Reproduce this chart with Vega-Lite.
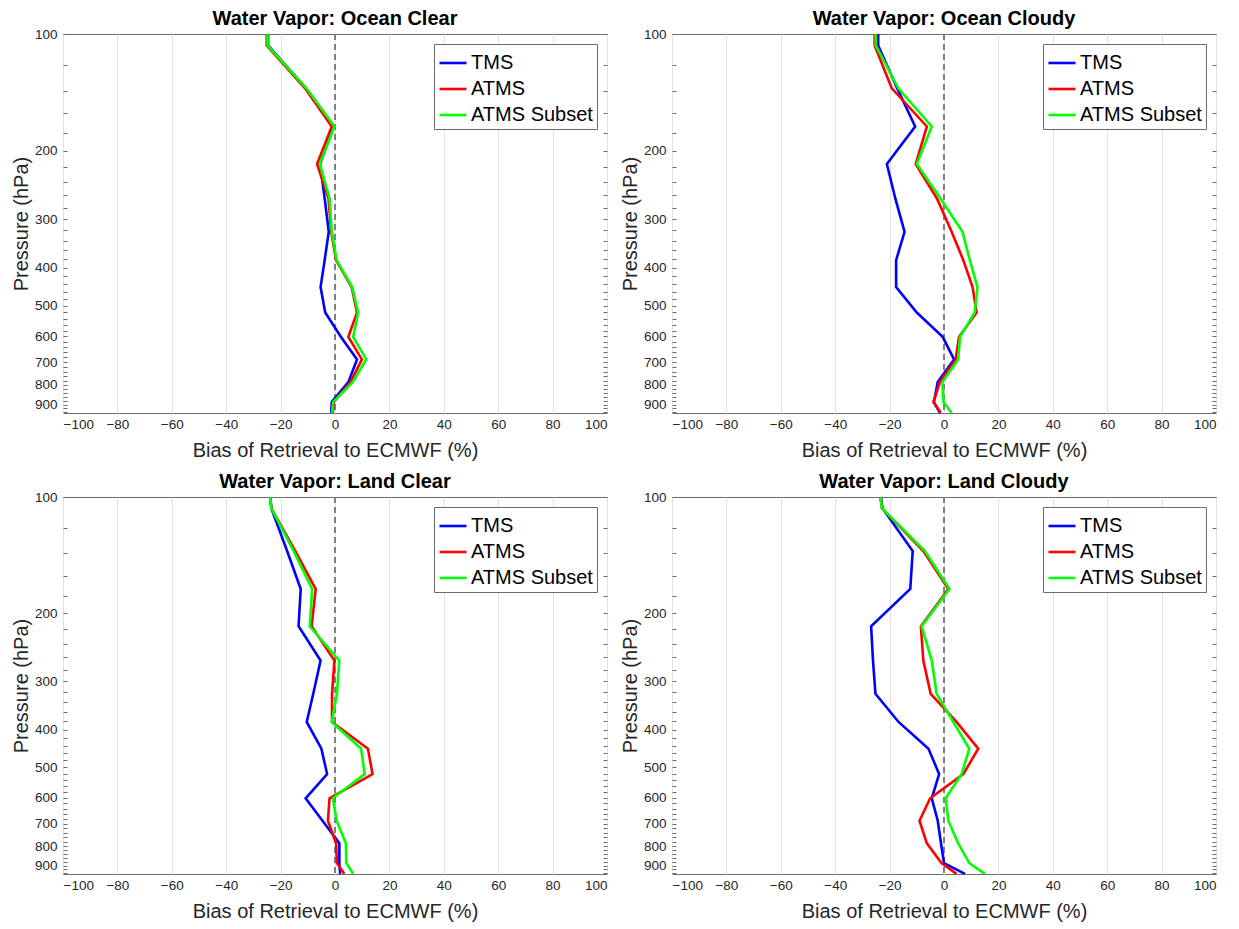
{
  "$schema": "https://vega.github.io/schema/vega-lite/v6.json",
  "padding": {"left": 10, "top": 8, "right": 5, "bottom": 2},
  "background": "#ffffff",
  "data": {"values": [
    {"panel":"Ocean Clear","series":"TMS","p":100,"bias":-24.6},
    {"panel":"Ocean Clear","series":"TMS","p":107,"bias":-24.6},
    {"panel":"Ocean Clear","series":"TMS","p":138,"bias":-10.7},
    {"panel":"Ocean Clear","series":"TMS","p":173,"bias":-0.6},
    {"panel":"Ocean Clear","series":"TMS","p":216,"bias":-5.5},
    {"panel":"Ocean Clear","series":"TMS","p":265,"bias":-3.8},
    {"panel":"Ocean Clear","series":"TMS","p":323,"bias":-2.3},
    {"panel":"Ocean Clear","series":"TMS","p":382,"bias":-3.8},
    {"panel":"Ocean Clear","series":"TMS","p":448,"bias":-5.3},
    {"panel":"Ocean Clear","series":"TMS","p":521,"bias":-3.6},
    {"panel":"Ocean Clear","series":"TMS","p":602,"bias":2.2},
    {"panel":"Ocean Clear","series":"TMS","p":688,"bias":8.1},
    {"panel":"Ocean Clear","series":"TMS","p":787,"bias":4.9},
    {"panel":"Ocean Clear","series":"TMS","p":886,"bias":-1.2},
    {"panel":"Ocean Clear","series":"TMS","p":944,"bias":-1.4},
    {"panel":"Ocean Clear","series":"ATMS","p":100,"bias":-25.1},
    {"panel":"Ocean Clear","series":"ATMS","p":107,"bias":-25.1},
    {"panel":"Ocean Clear","series":"ATMS","p":138,"bias":-11.0},
    {"panel":"Ocean Clear","series":"ATMS","p":173,"bias":-1.2},
    {"panel":"Ocean Clear","series":"ATMS","p":216,"bias":-6.6},
    {"panel":"Ocean Clear","series":"ATMS","p":265,"bias":-2.4},
    {"panel":"Ocean Clear","series":"ATMS","p":323,"bias":-1.4},
    {"panel":"Ocean Clear","series":"ATMS","p":382,"bias":0.4},
    {"panel":"Ocean Clear","series":"ATMS","p":448,"bias":6.1},
    {"panel":"Ocean Clear","series":"ATMS","p":521,"bias":8.1},
    {"panel":"Ocean Clear","series":"ATMS","p":602,"bias":4.9},
    {"panel":"Ocean Clear","series":"ATMS","p":688,"bias":9.9},
    {"panel":"Ocean Clear","series":"ATMS","p":787,"bias":5.7},
    {"panel":"Ocean Clear","series":"ATMS","p":886,"bias":-0.5},
    {"panel":"Ocean Clear","series":"ATMS","p":944,"bias":-0.8},
    {"panel":"Ocean Clear","series":"ATMS Subset","p":100,"bias":-24.8},
    {"panel":"Ocean Clear","series":"ATMS Subset","p":107,"bias":-24.8},
    {"panel":"Ocean Clear","series":"ATMS Subset","p":138,"bias":-10.5},
    {"panel":"Ocean Clear","series":"ATMS Subset","p":173,"bias":-0.2},
    {"panel":"Ocean Clear","series":"ATMS Subset","p":216,"bias":-5.6},
    {"panel":"Ocean Clear","series":"ATMS Subset","p":265,"bias":-2.0},
    {"panel":"Ocean Clear","series":"ATMS Subset","p":323,"bias":-1.2},
    {"panel":"Ocean Clear","series":"ATMS Subset","p":382,"bias":0.6},
    {"panel":"Ocean Clear","series":"ATMS Subset","p":448,"bias":6.3},
    {"panel":"Ocean Clear","series":"ATMS Subset","p":521,"bias":8.5},
    {"panel":"Ocean Clear","series":"ATMS Subset","p":602,"bias":6.7},
    {"panel":"Ocean Clear","series":"ATMS Subset","p":688,"bias":11.5},
    {"panel":"Ocean Clear","series":"ATMS Subset","p":787,"bias":6.5},
    {"panel":"Ocean Clear","series":"ATMS Subset","p":886,"bias":-0.7},
    {"panel":"Ocean Clear","series":"ATMS Subset","p":944,"bias":-1.1},

    {"panel":"Ocean Cloudy","series":"TMS","p":100,"bias":-24.2},
    {"panel":"Ocean Cloudy","series":"TMS","p":107,"bias":-24.2},
    {"panel":"Ocean Cloudy","series":"TMS","p":138,"bias":-17.2},
    {"panel":"Ocean Cloudy","series":"TMS","p":173,"bias":-10.6},
    {"panel":"Ocean Cloudy","series":"TMS","p":216,"bias":-21.0},
    {"panel":"Ocean Cloudy","series":"TMS","p":265,"bias":-17.9},
    {"panel":"Ocean Cloudy","series":"TMS","p":323,"bias":-14.5},
    {"panel":"Ocean Cloudy","series":"TMS","p":382,"bias":-17.6},
    {"panel":"Ocean Cloudy","series":"TMS","p":448,"bias":-17.6},
    {"panel":"Ocean Cloudy","series":"TMS","p":521,"bias":-10.0},
    {"panel":"Ocean Cloudy","series":"TMS","p":602,"bias":-0.5},
    {"panel":"Ocean Cloudy","series":"TMS","p":688,"bias":3.7},
    {"panel":"Ocean Cloudy","series":"TMS","p":787,"bias":-2.3},
    {"panel":"Ocean Cloudy","series":"TMS","p":886,"bias":-3.7},
    {"panel":"Ocean Cloudy","series":"TMS","p":944,"bias":-1.5},
    {"panel":"Ocean Cloudy","series":"ATMS","p":100,"bias":-25.5},
    {"panel":"Ocean Cloudy","series":"ATMS","p":107,"bias":-25.5},
    {"panel":"Ocean Cloudy","series":"ATMS","p":138,"bias":-19.2},
    {"panel":"Ocean Cloudy","series":"ATMS","p":173,"bias":-6.3},
    {"panel":"Ocean Cloudy","series":"ATMS","p":216,"bias":-10.4},
    {"panel":"Ocean Cloudy","series":"ATMS","p":265,"bias":-2.6},
    {"panel":"Ocean Cloudy","series":"ATMS","p":323,"bias":2.8},
    {"panel":"Ocean Cloudy","series":"ATMS","p":382,"bias":7.1},
    {"panel":"Ocean Cloudy","series":"ATMS","p":448,"bias":10.5},
    {"panel":"Ocean Cloudy","series":"ATMS","p":521,"bias":12.0},
    {"panel":"Ocean Cloudy","series":"ATMS","p":602,"bias":5.5},
    {"panel":"Ocean Cloudy","series":"ATMS","p":688,"bias":4.3},
    {"panel":"Ocean Cloudy","series":"ATMS","p":787,"bias":-1.5},
    {"panel":"Ocean Cloudy","series":"ATMS","p":886,"bias":-3.9},
    {"panel":"Ocean Cloudy","series":"ATMS","p":944,"bias":-1.2},
    {"panel":"Ocean Cloudy","series":"ATMS Subset","p":100,"bias":-25.1},
    {"panel":"Ocean Cloudy","series":"ATMS Subset","p":107,"bias":-25.1},
    {"panel":"Ocean Cloudy","series":"ATMS Subset","p":138,"bias":-16.8},
    {"panel":"Ocean Cloudy","series":"ATMS Subset","p":173,"bias":-4.5},
    {"panel":"Ocean Cloudy","series":"ATMS Subset","p":216,"bias":-10.0},
    {"panel":"Ocean Cloudy","series":"ATMS Subset","p":265,"bias":-1.3},
    {"panel":"Ocean Cloudy","series":"ATMS Subset","p":323,"bias":6.8},
    {"panel":"Ocean Cloudy","series":"ATMS Subset","p":382,"bias":9.5},
    {"panel":"Ocean Cloudy","series":"ATMS Subset","p":448,"bias":12.3},
    {"panel":"Ocean Cloudy","series":"ATMS Subset","p":521,"bias":11.3},
    {"panel":"Ocean Cloudy","series":"ATMS Subset","p":602,"bias":5.9},
    {"panel":"Ocean Cloudy","series":"ATMS Subset","p":688,"bias":5.2},
    {"panel":"Ocean Cloudy","series":"ATMS Subset","p":787,"bias":-0.6},
    {"panel":"Ocean Cloudy","series":"ATMS Subset","p":886,"bias":-0.2},
    {"panel":"Ocean Cloudy","series":"ATMS Subset","p":944,"bias":2.8},

    {"panel":"Land Clear","series":"TMS","p":100,"bias":-23.8},
    {"panel":"Land Clear","series":"TMS","p":107,"bias":-23.4},
    {"panel":"Land Clear","series":"TMS","p":138,"bias":-17.6},
    {"panel":"Land Clear","series":"TMS","p":173,"bias":-12.6},
    {"panel":"Land Clear","series":"TMS","p":216,"bias":-13.4},
    {"panel":"Land Clear","series":"TMS","p":265,"bias":-5.3},
    {"panel":"Land Clear","series":"TMS","p":323,"bias":-8.0},
    {"panel":"Land Clear","series":"TMS","p":382,"bias":-10.4},
    {"panel":"Land Clear","series":"TMS","p":448,"bias":-5.0},
    {"panel":"Land Clear","series":"TMS","p":521,"bias":-2.9},
    {"panel":"Land Clear","series":"TMS","p":602,"bias":-10.8},
    {"panel":"Land Clear","series":"TMS","p":688,"bias":-4.6},
    {"panel":"Land Clear","series":"TMS","p":787,"bias":1.6},
    {"panel":"Land Clear","series":"TMS","p":886,"bias":1.6},
    {"panel":"Land Clear","series":"TMS","p":944,"bias":1.9},
    {"panel":"Land Clear","series":"ATMS","p":100,"bias":-23.8},
    {"panel":"Land Clear","series":"ATMS","p":107,"bias":-23.4},
    {"panel":"Land Clear","series":"ATMS","p":138,"bias":-14.6},
    {"panel":"Land Clear","series":"ATMS","p":173,"bias":-7.1},
    {"panel":"Land Clear","series":"ATMS","p":216,"bias":-8.6},
    {"panel":"Land Clear","series":"ATMS","p":265,"bias":-0.2},
    {"panel":"Land Clear","series":"ATMS","p":323,"bias":-1.1},
    {"panel":"Land Clear","series":"ATMS","p":382,"bias":-1.1},
    {"panel":"Land Clear","series":"ATMS","p":448,"bias":12.1},
    {"panel":"Land Clear","series":"ATMS","p":521,"bias":13.8},
    {"panel":"Land Clear","series":"ATMS","p":602,"bias":-2.0},
    {"panel":"Land Clear","series":"ATMS","p":688,"bias":-2.6},
    {"panel":"Land Clear","series":"ATMS","p":787,"bias":0.4},
    {"panel":"Land Clear","series":"ATMS","p":886,"bias":0.7},
    {"panel":"Land Clear","series":"ATMS","p":944,"bias":3.4},
    {"panel":"Land Clear","series":"ATMS Subset","p":100,"bias":-23.8},
    {"panel":"Land Clear","series":"ATMS Subset","p":107,"bias":-23.4},
    {"panel":"Land Clear","series":"ATMS Subset","p":138,"bias":-15.2},
    {"panel":"Land Clear","series":"ATMS Subset","p":173,"bias":-8.4},
    {"panel":"Land Clear","series":"ATMS Subset","p":216,"bias":-9.3},
    {"panel":"Land Clear","series":"ATMS Subset","p":265,"bias":1.6},
    {"panel":"Land Clear","series":"ATMS Subset","p":323,"bias":0.7},
    {"panel":"Land Clear","series":"ATMS Subset","p":382,"bias":-1.2},
    {"panel":"Land Clear","series":"ATMS Subset","p":448,"bias":9.6},
    {"panel":"Land Clear","series":"ATMS Subset","p":521,"bias":10.9},
    {"panel":"Land Clear","series":"ATMS Subset","p":602,"bias":-0.8},
    {"panel":"Land Clear","series":"ATMS Subset","p":688,"bias":0.6},
    {"panel":"Land Clear","series":"ATMS Subset","p":787,"bias":4.0},
    {"panel":"Land Clear","series":"ATMS Subset","p":886,"bias":4.2},
    {"panel":"Land Clear","series":"ATMS Subset","p":944,"bias":6.7},

    {"panel":"Land Cloudy","series":"TMS","p":100,"bias":-23.2},
    {"panel":"Land Cloudy","series":"TMS","p":107,"bias":-22.6},
    {"panel":"Land Cloudy","series":"TMS","p":138,"bias":-11.5},
    {"panel":"Land Cloudy","series":"TMS","p":173,"bias":-12.4},
    {"panel":"Land Cloudy","series":"TMS","p":216,"bias":-26.8},
    {"panel":"Land Cloudy","series":"TMS","p":265,"bias":-26.1},
    {"panel":"Land Cloudy","series":"TMS","p":323,"bias":-25.2},
    {"panel":"Land Cloudy","series":"TMS","p":382,"bias":-16.7},
    {"panel":"Land Cloudy","series":"TMS","p":448,"bias":-5.7},
    {"panel":"Land Cloudy","series":"TMS","p":521,"bias":-1.8},
    {"panel":"Land Cloudy","series":"TMS","p":602,"bias":-4.5},
    {"panel":"Land Cloudy","series":"TMS","p":688,"bias":-2.3},
    {"panel":"Land Cloudy","series":"TMS","p":787,"bias":-1.1},
    {"panel":"Land Cloudy","series":"TMS","p":886,"bias":0.0},
    {"panel":"Land Cloudy","series":"TMS","p":944,"bias":7.7},
    {"panel":"Land Cloudy","series":"ATMS","p":100,"bias":-23.4},
    {"panel":"Land Cloudy","series":"ATMS","p":107,"bias":-22.8},
    {"panel":"Land Cloudy","series":"ATMS","p":138,"bias":-7.6},
    {"panel":"Land Cloudy","series":"ATMS","p":173,"bias":1.6},
    {"panel":"Land Cloudy","series":"ATMS","p":216,"bias":-8.5},
    {"panel":"Land Cloudy","series":"ATMS","p":265,"bias":-7.6},
    {"panel":"Land Cloudy","series":"ATMS","p":323,"bias":-4.9},
    {"panel":"Land Cloudy","series":"ATMS","p":382,"bias":4.6},
    {"panel":"Land Cloudy","series":"ATMS","p":448,"bias":12.6},
    {"panel":"Land Cloudy","series":"ATMS","p":521,"bias":7.1},
    {"panel":"Land Cloudy","series":"ATMS","p":602,"bias":-5.1},
    {"panel":"Land Cloudy","series":"ATMS","p":688,"bias":-9.0},
    {"panel":"Land Cloudy","series":"ATMS","p":787,"bias":-6.3},
    {"panel":"Land Cloudy","series":"ATMS","p":886,"bias":-0.9},
    {"panel":"Land Cloudy","series":"ATMS","p":944,"bias":4.6},
    {"panel":"Land Cloudy","series":"ATMS Subset","p":100,"bias":-23.4},
    {"panel":"Land Cloudy","series":"ATMS Subset","p":107,"bias":-22.8},
    {"panel":"Land Cloudy","series":"ATMS Subset","p":138,"bias":-7.0},
    {"panel":"Land Cloudy","series":"ATMS Subset","p":173,"bias":2.0},
    {"panel":"Land Cloudy","series":"ATMS Subset","p":216,"bias":-8.2},
    {"panel":"Land Cloudy","series":"ATMS Subset","p":265,"bias":-4.5},
    {"panel":"Land Cloudy","series":"ATMS Subset","p":323,"bias":-2.7},
    {"panel":"Land Cloudy","series":"ATMS Subset","p":382,"bias":3.4},
    {"panel":"Land Cloudy","series":"ATMS Subset","p":448,"bias":9.3},
    {"panel":"Land Cloudy","series":"ATMS Subset","p":521,"bias":6.5},
    {"panel":"Land Cloudy","series":"ATMS Subset","p":602,"bias":0.6},
    {"panel":"Land Cloudy","series":"ATMS Subset","p":688,"bias":1.6},
    {"panel":"Land Cloudy","series":"ATMS Subset","p":787,"bias":5.2},
    {"panel":"Land Cloudy","series":"ATMS Subset","p":886,"bias":9.3},
    {"panel":"Land Cloudy","series":"ATMS Subset","p":944,"bias":15.0}
  ]},
  "columns": 2,
  "spacing": {"row": 10, "column": 11},
  "resolve": {"scale": {"color": "independent"}, "legend": {"color": "independent"}},
  "concat": [
    {
      "title": "Water Vapor: Ocean Clear",
      "width": 544, "height": 379,
      "transform": [{"filter": "datum.panel === 'Ocean Clear'"}],
      "layer": [
        {"mark": {"type": "rule", "strokeDash": [6, 4], "color": "#808080", "strokeWidth": 1.3}, "encoding": {"x": {"datum": 0, "type": "quantitative"}}},
        {"mark": {"type": "line", "strokeWidth": 2.6},
         "encoding": {
          "x": {"field": "bias", "type": "quantitative", "scale": {"domain": [-100, 100], "nice": false}, "axis": {"title": "Bias of Retrieval to ECMWF (%)", "values": [-100,-80,-60,-40,-20,0,20,40,60,80,100], "grid": true, "gridColor": "#e3e3e3", "tickSize": 0, "labelPadding": 4, "titlePadding": 10}},
          "y": {"field": "p", "type": "quantitative", "scale": {"type": "log", "domain": [100, 945], "reverse": true, "nice": false}, "axis": {"orient": "left", "title": "Pressure (hPa)", "values": [100,120,140,160,180,200,220,240,260,280,300,320,340,360,380,400,420,440,460,480,500,520,540,560,580,600,620,640,660,680,700,720,740,760,780,800,820,840,860,880,900,920,940], "labelExpr": "datum.value % 100 === 0 ? datum.label : ''", "format": "d", "labelOverlap": false, "grid": false, "tickSize": -4, "labelPadding": 10, "titlePadding": 3}},
          "color": {"field": "series", "type": "nominal", "scale": {"domain": ["TMS", "ATMS", "ATMS Subset"], "range": ["#0000ff", "#ff0000", "#00ff00"]}},
          "order": {"field": "p", "type": "quantitative"}
         }},
        {"mark": {"type": "line", "opacity": 0},
         "encoding": {
          "x": {"field": "bias", "type": "quantitative", "scale": {"domain": [-100, 100], "nice": false}, "axis": {"title": "Bias of Retrieval to ECMWF (%)"}},
          "y": {"field": "p", "type": "quantitative", "scale": {"type": "log", "domain": [100, 945], "reverse": true, "nice": false}, "axis": {"orient": "right", "title": null, "labels": false, "values": [100,120,140,160,180,200,220,240,260,280,300,320,340,360,380,400,420,440,460,480,500,520,540,560,580,600,620,640,660,680,700,720,740,760,780,800,820,840,860,880,900,920,940], "grid": false, "tickSize": -4}},
          "order": {"field": "p", "type": "quantitative"}
         }}
      ],
      "resolve": {"axis": {"y": "independent"}}
    },
    {
      "title": "Water Vapor: Ocean Cloudy",
      "width": 544, "height": 379,
      "transform": [{"filter": "datum.panel === 'Ocean Cloudy'"}],
      "layer": [
        {"mark": {"type": "rule", "strokeDash": [6, 4], "color": "#808080", "strokeWidth": 1.3}, "encoding": {"x": {"datum": 0, "type": "quantitative"}}},
        {"mark": {"type": "line", "strokeWidth": 2.6},
         "encoding": {
          "x": {"field": "bias", "type": "quantitative", "scale": {"domain": [-100, 100], "nice": false}, "axis": {"title": "Bias of Retrieval to ECMWF (%)", "values": [-100,-80,-60,-40,-20,0,20,40,60,80,100], "grid": true, "gridColor": "#e3e3e3", "tickSize": 0, "labelPadding": 4, "titlePadding": 10}},
          "y": {"field": "p", "type": "quantitative", "scale": {"type": "log", "domain": [100, 945], "reverse": true, "nice": false}, "axis": {"orient": "left", "title": "Pressure (hPa)", "values": [100,120,140,160,180,200,220,240,260,280,300,320,340,360,380,400,420,440,460,480,500,520,540,560,580,600,620,640,660,680,700,720,740,760,780,800,820,840,860,880,900,920,940], "labelExpr": "datum.value % 100 === 0 ? datum.label : ''", "format": "d", "labelOverlap": false, "grid": false, "tickSize": -4, "labelPadding": 10, "titlePadding": 3}},
          "color": {"field": "series", "type": "nominal", "scale": {"domain": ["TMS", "ATMS", "ATMS Subset"], "range": ["#0000ff", "#ff0000", "#00ff00"]}},
          "order": {"field": "p", "type": "quantitative"}
         }},
        {"mark": {"type": "line", "opacity": 0},
         "encoding": {
          "x": {"field": "bias", "type": "quantitative", "scale": {"domain": [-100, 100], "nice": false}, "axis": {"title": "Bias of Retrieval to ECMWF (%)"}},
          "y": {"field": "p", "type": "quantitative", "scale": {"type": "log", "domain": [100, 945], "reverse": true, "nice": false}, "axis": {"orient": "right", "title": null, "labels": false, "values": [100,120,140,160,180,200,220,240,260,280,300,320,340,360,380,400,420,440,460,480,500,520,540,560,580,600,620,640,660,680,700,720,740,760,780,800,820,840,860,880,900,920,940], "grid": false, "tickSize": -4}},
          "order": {"field": "p", "type": "quantitative"}
         }}
      ],
      "resolve": {"axis": {"y": "independent"}}
    },
    {
      "title": "Water Vapor: Land Clear",
      "width": 544, "height": 377,
      "transform": [{"filter": "datum.panel === 'Land Clear'"}],
      "layer": [
        {"mark": {"type": "rule", "strokeDash": [6, 4], "color": "#808080", "strokeWidth": 1.3}, "encoding": {"x": {"datum": 0, "type": "quantitative"}}},
        {"mark": {"type": "line", "strokeWidth": 2.6},
         "encoding": {
          "x": {"field": "bias", "type": "quantitative", "scale": {"domain": [-100, 100], "nice": false}, "axis": {"title": "Bias of Retrieval to ECMWF (%)", "values": [-100,-80,-60,-40,-20,0,20,40,60,80,100], "grid": true, "gridColor": "#e3e3e3", "tickSize": 0, "labelPadding": 4, "titlePadding": 10}},
          "y": {"field": "p", "type": "quantitative", "scale": {"type": "log", "domain": [100, 945], "reverse": true, "nice": false}, "axis": {"orient": "left", "title": "Pressure (hPa)", "values": [100,120,140,160,180,200,220,240,260,280,300,320,340,360,380,400,420,440,460,480,500,520,540,560,580,600,620,640,660,680,700,720,740,760,780,800,820,840,860,880,900,920,940], "labelExpr": "datum.value % 100 === 0 ? datum.label : ''", "format": "d", "labelOverlap": false, "grid": false, "tickSize": -4, "labelPadding": 10, "titlePadding": 3}},
          "color": {"field": "series", "type": "nominal", "scale": {"domain": ["TMS", "ATMS", "ATMS Subset"], "range": ["#0000ff", "#ff0000", "#00ff00"]}},
          "order": {"field": "p", "type": "quantitative"}
         }},
        {"mark": {"type": "line", "opacity": 0},
         "encoding": {
          "x": {"field": "bias", "type": "quantitative", "scale": {"domain": [-100, 100], "nice": false}, "axis": {"title": "Bias of Retrieval to ECMWF (%)"}},
          "y": {"field": "p", "type": "quantitative", "scale": {"type": "log", "domain": [100, 945], "reverse": true, "nice": false}, "axis": {"orient": "right", "title": null, "labels": false, "values": [100,120,140,160,180,200,220,240,260,280,300,320,340,360,380,400,420,440,460,480,500,520,540,560,580,600,620,640,660,680,700,720,740,760,780,800,820,840,860,880,900,920,940], "grid": false, "tickSize": -4}},
          "order": {"field": "p", "type": "quantitative"}
         }}
      ],
      "resolve": {"axis": {"y": "independent"}}
    },
    {
      "title": "Water Vapor: Land Cloudy",
      "width": 544, "height": 377,
      "transform": [{"filter": "datum.panel === 'Land Cloudy'"}],
      "layer": [
        {"mark": {"type": "rule", "strokeDash": [6, 4], "color": "#808080", "strokeWidth": 1.3}, "encoding": {"x": {"datum": 0, "type": "quantitative"}}},
        {"mark": {"type": "line", "strokeWidth": 2.6},
         "encoding": {
          "x": {"field": "bias", "type": "quantitative", "scale": {"domain": [-100, 100], "nice": false}, "axis": {"title": "Bias of Retrieval to ECMWF (%)", "values": [-100,-80,-60,-40,-20,0,20,40,60,80,100], "grid": true, "gridColor": "#e3e3e3", "tickSize": 0, "labelPadding": 4, "titlePadding": 10}},
          "y": {"field": "p", "type": "quantitative", "scale": {"type": "log", "domain": [100, 945], "reverse": true, "nice": false}, "axis": {"orient": "left", "title": "Pressure (hPa)", "values": [100,120,140,160,180,200,220,240,260,280,300,320,340,360,380,400,420,440,460,480,500,520,540,560,580,600,620,640,660,680,700,720,740,760,780,800,820,840,860,880,900,920,940], "labelExpr": "datum.value % 100 === 0 ? datum.label : ''", "format": "d", "labelOverlap": false, "grid": false, "tickSize": -4, "labelPadding": 10, "titlePadding": 3}},
          "color": {"field": "series", "type": "nominal", "scale": {"domain": ["TMS", "ATMS", "ATMS Subset"], "range": ["#0000ff", "#ff0000", "#00ff00"]}},
          "order": {"field": "p", "type": "quantitative"}
         }},
        {"mark": {"type": "line", "opacity": 0},
         "encoding": {
          "x": {"field": "bias", "type": "quantitative", "scale": {"domain": [-100, 100], "nice": false}, "axis": {"title": "Bias of Retrieval to ECMWF (%)"}},
          "y": {"field": "p", "type": "quantitative", "scale": {"type": "log", "domain": [100, 945], "reverse": true, "nice": false}, "axis": {"orient": "right", "title": null, "labels": false, "values": [100,120,140,160,180,200,220,240,260,280,300,320,340,360,380,400,420,440,460,480,500,520,540,560,580,600,620,640,660,680,700,720,740,760,780,800,820,840,860,880,900,920,940], "grid": false, "tickSize": -4}},
          "order": {"field": "p", "type": "quantitative"}
         }}
      ],
      "resolve": {"axis": {"y": "independent"}}
    }
  ],
  "config": {
    "font": "Liberation Sans",
    "view": {"stroke": "#6b6b6b", "strokeWidth": 1},
    "axis": {"labelFont": "Liberation Sans", "titleFont": "Liberation Sans", "labelFontSize": 13.5, "labelColor": "#262626", "titleColor": "#262626", "titleFontSize": 20, "titleFontWeight": "normal", "domain": false, "tickColor": "#6b6b6b", "tickWidth": 1},
    "title": {"font": "Liberation Sans", "fontSize": 20, "fontWeight": "bold", "color": "#000000", "offset": -2},
    "legend": {"title": null, "orient": "top-right", "offset": 10, "strokeColor": "#6b6b6b", "fillColor": "#ffffff", "padding": 4, "labelFont": "Liberation Sans", "labelFontSize": 20, "labelColor": "#000000", "labelLimit": 300, "symbolType": "stroke", "symbolStrokeWidth": 2.6, "symbolSize": 729, "rowPadding": 1, "labelOffset": 3}
  }
}
